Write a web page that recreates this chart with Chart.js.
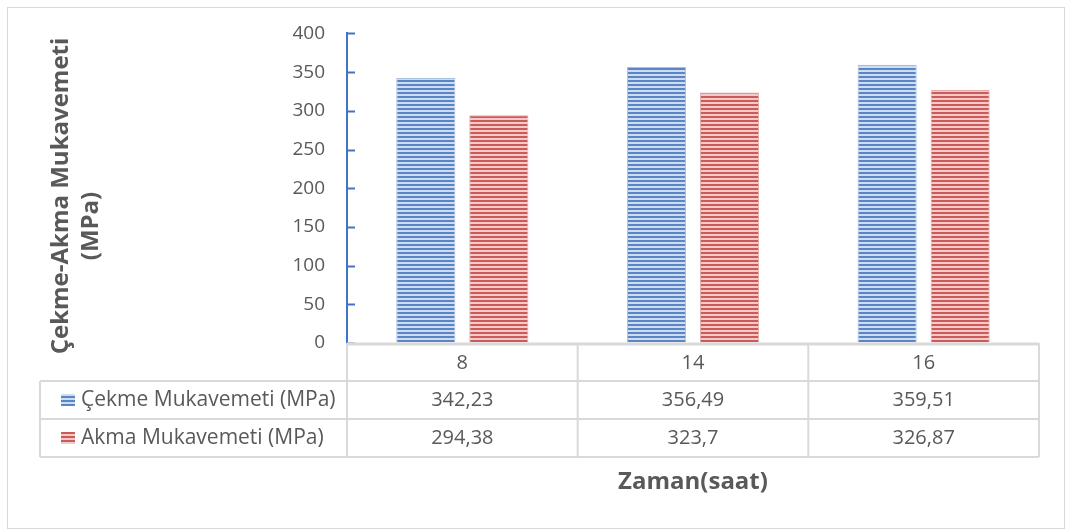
<!DOCTYPE html>
<html>
<head>
    <title>Çekme-Akma Mukavemeti</title>
    <script src="https://cdn.jsdelivr.net/npm/chart.js"></script>
    <style>
        body { margin: 0; background: #fff; }
    </style>
</head>
<body>
    <canvas id="strengthChart" width="1068" height="530"></canvas>

    <script>
        // data
        const hours = ["8", "14", "16"];
        const tensile = [342.23, 356.49, 359.51];   // Çekme Mukavemeti (MPa)
        const yieldStr = [294.38, 323.7, 326.87];  // Akma Mukavemeti (MPa)
        const seriesNames = ["Çekme Mukavemeti (MPa)", "Akma Mukavemeti (MPa)"];
        const yTitle = ["Çekme-Akma Mukavemeti", "(MPa)"];
        const xTitle = "Zaman(saat)";

        const FONT = "'Open Sans', sans-serif";
        const TEXT = "#595959";
        const LINE = "#d9d9d9";

        // horizontal stripe fill like the Excel pattern
        function stripes(dark, light) {
            const c = document.createElement("canvas");
            c.width = 4; c.height = 4;
            const g = c.getContext("2d");
            g.fillStyle = light;
            g.fillRect(0, 0, 4, 4);
            g.fillStyle = dark;
            g.fillRect(0, 0, 4, 2);
            return g.createPattern(c, "repeat");
        }
        const bluePat = stripes("#5a86c8", "#cfdcf0");
        const redPat = stripes("#cc5a58", "#f2caca");
        const patterns = [bluePat, redPat];

        function fmt(v) {
            return String(v).replace(".", ",");
        }

        const tablePlugin = {
            id: "dataTable",
            afterDraw(chart) {
                const ctx = chart.ctx;
                const area = chart.chartArea;
                const xs = chart.scales.x;
                const ys = chart.scales.y;
                const colW = (area.right - area.left) / hours.length;
                const rowH = 38;
                const top = area.bottom;
                const tableLeft = 40;

                ctx.save();

                // outer frame
                ctx.strokeStyle = LINE;
                ctx.lineWidth = 1;
                ctx.strokeRect(7.5, 7.5, 1057, 521);

                // tick marks on the inside of the value axis
                ctx.strokeStyle = "#4472c4";
                ctx.lineWidth = 2;
                ys.ticks.forEach(t => {
                    const y = Math.round(ys.getPixelForValue(t.value)) + 0.5;
                    ctx.beginPath();
                    ctx.moveTo(area.left, y);
                    ctx.lineTo(area.left + 8, y);
                    ctx.stroke();
                });

                // table grid
                ctx.strokeStyle = LINE;
                ctx.lineWidth = 3;
                ctx.beginPath();
                ctx.moveTo(area.left, top + 1);
                ctx.lineTo(area.right, top + 1);
                ctx.stroke();
                ctx.lineWidth = 2;
                for (let r = 1; r <= 3; r++) {
                    const y = top + r * rowH;
                    ctx.beginPath();
                    ctx.moveTo(tableLeft, y);
                    ctx.lineTo(area.right, y);
                    ctx.stroke();
                }
                ctx.beginPath();
                ctx.moveTo(tableLeft, top + rowH);
                ctx.lineTo(tableLeft, top + 3 * rowH);
                ctx.stroke();
                for (let i = 0; i <= hours.length; i++) {
                    const x = area.left + i * colW;
                    ctx.beginPath();
                    ctx.moveTo(x, top);
                    ctx.lineTo(x, top + 3 * rowH);
                    ctx.stroke();
                }

                // table text
                ctx.fillStyle = TEXT;
                ctx.font = "20px " + FONT;
                ctx.textAlign = "center";
                ctx.textBaseline = "middle";
                const rows = [tensile, yieldStr];
                hours.forEach((h, i) => {
                    const cx = xs.getPixelForValue(i);
                    ctx.fillText(h, cx, top + rowH / 2 + 1);
                    rows.forEach((vals, r) => {
                        ctx.fillText(fmt(vals[i]), cx, top + (r + 1.5) * rowH);
                    });
                });

                // legend keys in the table
                ctx.textAlign = "left";
                ctx.font = "21px " + FONT;
                seriesNames.forEach((name, r) => {
                    const cy = top + (r + 1.5) * rowH;
                    ctx.fillStyle = patterns[r];
                    ctx.fillRect(61, Math.round(cy) - 6, 14, 12);
                    ctx.fillStyle = TEXT;
                    ctx.fillText(name, 81, cy);
                });

                // axis titles
                ctx.font = "bold 24px " + FONT;
                ctx.textAlign = "center";
                ctx.fillText(xTitle, 693, 482);

                ctx.translate(61, 196);
                ctx.rotate(-Math.PI / 2);
                ctx.fillText(yTitle[0], 0, 0);
                ctx.fillText(yTitle[1], -30, 30);
                ctx.restore();
            }
        };

        new Chart(document.getElementById("strengthChart"), {
            type: "bar",
            data: {
                labels: hours,
                datasets: [
                    {
                        label: seriesNames[0],
                        data: tensile,
                        backgroundColor: bluePat,
                        borderColor: "#a9c0e4",
                        borderWidth: 1
                    },
                    {
                        label: seriesNames[1],
                        data: yieldStr,
                        backgroundColor: redPat,
                        borderColor: "#e4a9a9",
                        borderWidth: 1
                    }
                ]
            },
            options: {
                responsive: false,
                animation: false,
                categoryPercentage: 0.633,
                barPercentage: 0.81,
                layout: {
                    padding: { left: 0, top: 31, right: 29, bottom: 187 }
                },
                plugins: {
                    legend: { display: false },
                    tooltip: { enabled: false }
                },
                scales: {
                    x: {
                        display: false
                    },
                    y: {
                        min: 0,
                        max: 400,
                        ticks: {
                            stepSize: 50,
                            padding: 22,
                            color: TEXT,
                            font: { family: FONT, size: 19 }
                        },
                        grid: {
                            drawOnChartArea: false,
                            drawTicks: false
                        },
                        border: {
                            color: "#4472c4",
                            width: 2
                        },
                        afterFit(scale) {
                            scale.width = 347;
                        }
                    }
                }
            },
            plugins: [tablePlugin]
        });
    </script>
</body>
</html>
